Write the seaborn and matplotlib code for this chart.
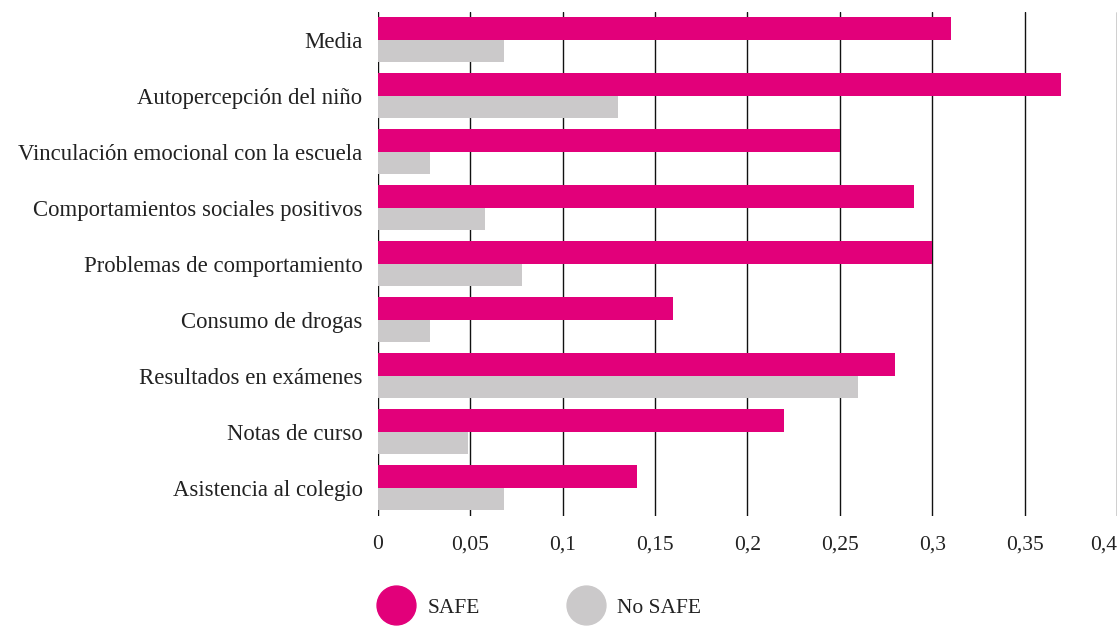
import matplotlib
matplotlib.use("Agg")
import matplotlib.pyplot as plt
import seaborn as sns
import pandas as pd
from matplotlib.lines import Line2D

categories = ["Media", "Autopercepción del niño", "Vinculación emocional con la escuela",
              "Comportamientos sociales positivos", "Problemas de comportamiento",
              "Consumo de drogas", "Resultados en exámenes", "Notas de curso",
              "Asistencia al colegio"]
safe = [0.31, 0.37, 0.25, 0.29, 0.30, 0.16, 0.28, 0.22, 0.14]
no_safe = [0.068, 0.13, 0.028, 0.058, 0.078, 0.028, 0.26, 0.049, 0.068]
series = ["SAFE", "No SAFE"]
ticks = [0, 0.05, 0.1, 0.15, 0.2, 0.25, 0.3, 0.35, 0.4]
tick_labels = ["0", "0,05", "0,1", "0,15", "0,2", "0,25", "0,3", "0,35", "0,4"]
colors = ["#E2007A", "#CBC9CA"]

df = pd.DataFrame({
    "cat": categories * 2,
    "val": safe + no_safe,
    "serie": [series[0]] * len(categories) + [series[1]] * len(categories),
})

sns.set_theme(style="white")
plt.rcParams["font.family"] = ["Liberation Serif", "DejaVu Serif"]

fig = plt.figure(figsize=(11.18, 6.26), dpi=100)
ax = fig.add_axes([0.338, 0.176, 0.661, 0.805])
sns.barplot(data=df, y="cat", x="val", hue="serie", order=categories,
            hue_order=series, palette=colors, orient="h", width=0.8,
            saturation=1, ax=ax, legend=False, linewidth=0)

ax.set_xlim(0, 0.4)
ax.set_ylim(len(categories) - 0.5, -0.5)
ax.set_xticks(ticks)
ax.set_xticklabels(tick_labels, fontsize=15.5, color="#222222")
ax.get_xticklabels()[-1].set_horizontalalignment("right")
ax.tick_params(axis="y", labelsize=16.4, pad=11, length=0, labelcolor="#222222")
ax.tick_params(axis="x", pad=14, length=0)
ax.set_xlabel("")
ax.set_ylabel("")
for s in ax.spines.values():
    s.set_visible(False)
ax.set_axisbelow(True)
ax.grid(axis="x", color="#111111", linewidth=1.0)
ax.grid(axis="y", visible=False)
ax.axvline(0, color="#999999", linewidth=1.2, zorder=0)

handles = [Line2D([], [], marker="o", linestyle="none", markersize=28,
                  markerfacecolor=c, markeredgecolor=c) for c in colors]
fig.legend(handles, series, loc="lower left", bbox_to_anchor=(0.318, -0.018),
           ncol=2, frameon=False, fontsize=15.5, columnspacing=3.9,
           handletextpad=0.45, labelcolor="#222222")

fig.savefig("out.png", dpi=100)
